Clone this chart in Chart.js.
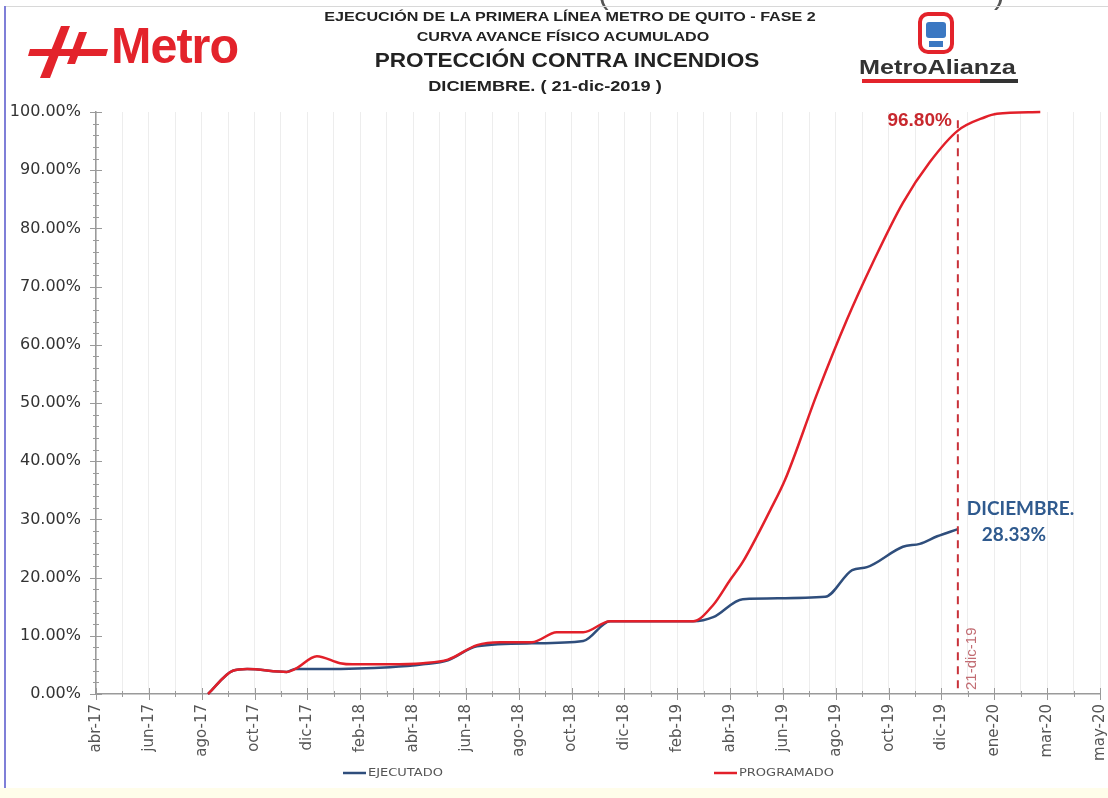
<!DOCTYPE html>
<html>
<head>
<meta charset="utf-8">
<script src="https://cdn.jsdelivr.net/npm/chart.js@4.4.1/dist/chart.umd.min.js"></script>
<style>
  html, body { margin:0; padding:0; }
  body { width:1108px; height:798px; position:relative; overflow:hidden; background:#fff; font-family:"Liberation Sans", Arial, sans-serif; }
  #c { position:absolute; left:0; top:0; }
  .t { position:absolute; width:700px; text-align:center; font-weight:bold; color:#222; white-space:nowrap; transform-origin:50% 50%; }
  #frameL { position:absolute; left:4px; top:6px; width:2px; height:784px; background:#7f7fd8; }
  #frameT { position:absolute; left:4px; top:6px; width:1104px; height:1px; background:#d8d8d8; }
  #bottomBand { position:absolute; left:0; top:788px; width:1108px; height:10px; background:#fffdea; }
  #metroTxt { position:absolute; left:111px; top:17px; font-size:50px; font-weight:bold; color:#e3232b; letter-spacing:-1px; transform:scaleX(0.97); transform-origin:0 50%; }
  #alianzaTxt { position:absolute; left:859px; top:56px; font-size:20px; font-weight:bold; color:#333; transform:scaleX(1.26); transform-origin:0 50%; }
  .par { position:absolute; top:-26px; font-size:32px; color:#555; font-weight:300; }
</style>
</head>
<body>
<canvas id="c" width="1108" height="798"></canvas>
<div class="par" style="left:598px;">(</div>
<div class="par" style="left:994px;">)</div>
<div id="frameT"></div>
<div id="frameL"></div>
<div id="bottomBand"></div>

<div class="t" style="left:220px; top:9px; font-size:13px; transform:scaleX(1.24);">EJECUCIÓN DE LA PRIMERA LÍNEA METRO DE QUITO - FASE 2</div>
<div class="t" style="left:213px; top:29px; font-size:13px; transform:scaleX(1.24);">CURVA AVANCE FÍSICO ACUMULADO</div>
<div class="t" style="left:217px; top:49px; font-size:20px; transform:scaleX(1.13);">PROTECCIÓN CONTRA INCENDIOS</div>
<div class="t" style="left:195px; top:78px; font-size:14px; transform:scaleX(1.3);">DICIEMBRE. ( 21-dic-2019 )</div>

<svg style="position:absolute;left:28px;top:26px" width="82" height="54" viewBox="0 0 82 54">
  <polygon points="2,23 80,23 78,30 0,30" fill="#e3232b"/>
  <polygon points="33,0 42,0 22,52 12,52" fill="#e3232b"/>
  <polygon points="51,6 59,6 47,38 39,38" fill="#e3232b"/>
</svg>
<div id="metroTxt">Metro</div>

<svg style="position:absolute;left:917px;top:12px" width="40" height="44" viewBox="0 0 40 44">
  <rect x="3" y="2" width="32" height="38" rx="8" ry="8" fill="none" stroke="#e3232b" stroke-width="4"/>
  <rect x="9" y="10" width="20" height="16" rx="3" fill="#3b78c2"/>
  <rect x="12" y="29" width="14" height="6" fill="#3b78c2"/>
</svg>
<div id="alianzaTxt">MetroAlianza</div>
<div style="position:absolute;left:862px;top:79px;width:118px;height:4px;background:#e3232b;"></div>
<div style="position:absolute;left:980px;top:79px;width:38px;height:4px;background:#333;"></div>

<script>
// ---- DATA ----
const xLabels = ["abr-17","jun-17","ago-17","oct-17","dic-17","feb-18","abr-18","jun-18","ago-18","oct-18",
                 "dic-18","feb-19","abr-19","jun-19","ago-19","oct-19","dic-19","ene-20","mar-20","may-20"];

// x positions in axis-label units (0 = abr-17, 1 = jun-17, ...)
const progX = [2.12,2.59,2.86,3.61,3.77,4.18,4.62,4.85,5.56,6.19,6.66,7.21,7.65,8.25,8.72,9.22,9.73,11.30,11.68,12.00,12.24,12.76,13.04,13.65,14.21,14.70,15.27,15.78,16.31,16.82,17.05,17.87];
const progY = [0,4.0,4.3,3.8,4.3,6.5,5.3,5.1,5.1,5.3,5.9,8.4,8.9,8.9,10.6,10.6,12.5,12.5,15.3,19.6,22.7,31.6,36.8,51.7,64.3,74.1,84.4,91.4,96.8,99.1,99.7,100];

const ejecX = [2.12,2.59,2.86,3.61,3.77,4.30,5.56,6.19,6.66,7.21,8.25,9.22,9.73,11.30,11.68,12.24,13.80,14.31,14.59,15.27,15.59,15.92,16.31];
const ejecY = [0,4.0,4.3,3.8,4.3,4.3,4.6,5.1,5.8,8.2,8.7,9.1,12.5,12.5,13.2,16.3,16.7,21.3,21.8,25.3,25.8,27.1,28.33];

const seriesNames = ["EJECUTADO","PROGRAMADO"];
const cutX = 16.31;
const cutLabel = "21-dic-19";
const progAtCut = "96.80%";
const ejecMonth = "DICIEMBRE.";
const ejecAtCut = "28.33%";

const BLUE = "#2f4e7c";
const RED = "#e2202a";

const annot = {
  id: "annot",
  afterDraw(chart) {
    const ctx = chart.ctx;
    const xs = chart.scales.x, ys = chart.scales.y;
    const ca = chart.chartArea;
    ctx.save();
    ctx.strokeStyle = "#9a9a9a"; ctx.lineWidth = 1;
    for (let v = 0; v <= 100; v += 2) {
      const y = Math.round(ys.getPixelForValue(v)) + 0.5;
      const len = (v % 10 === 0) ? 6 : 3;
      ctx.beginPath(); ctx.moveTo(ca.left - len, y); ctx.lineTo(ca.left + len, y); ctx.stroke();
    }
    for (let v = 0; v <= 19; v += 0.5) {
      const x = Math.round(xs.getPixelForValue(v)) + 0.5;
      const len = Number.isInteger(v) ? 6 : 3;
      ctx.beginPath(); ctx.moveTo(x, ca.bottom - len); ctx.lineTo(x, ca.bottom + len); ctx.stroke();
    }
    const cx = xs.getPixelForValue(cutX);
    ctx.strokeStyle = "#c8323a"; ctx.lineWidth = 2; ctx.setLineDash([8,6]);
    ctx.beginPath(); ctx.moveTo(cx, ys.getPixelForValue(98.6)); ctx.lineTo(cx, ca.bottom); ctx.stroke();
    ctx.setLineDash([]);
    ctx.fillStyle = "#c8282e"; ctx.font = "bold 19px 'Liberation Sans', Arial, sans-serif";
    ctx.textAlign = "right"; ctx.textBaseline = "middle";
    ctx.fillText(progAtCut, cx - 6, ys.getPixelForValue(98.6) + 1);
    ctx.fillStyle = "#2f5a8e"; ctx.font = "bold 19px Lato, 'Open Sans', sans-serif";
    ctx.textAlign = "left";
    ctx.fillText(ejecMonth, cx + 9, 509);
    ctx.fillText(ejecAtCut, cx + 24, 535);
    ctx.save();
    ctx.translate(cx + 14, ca.bottom - 4);
    ctx.rotate(-Math.PI / 2);
    ctx.fillStyle = "#c26d73"; ctx.font = "15px 'Liberation Sans', Arial, sans-serif";
    ctx.textAlign = "left"; ctx.textBaseline = "middle";
    ctx.fillText(cutLabel, 0, 0);
    ctx.restore();
    // legend
    ctx.textBaseline = "middle"; ctx.textAlign = "left";
    const items = [{x:343, c:BLUE, t:seriesNames[0]}, {x:714, c:RED, t:seriesNames[1]}];
    items.forEach(it => {
      ctx.strokeStyle = it.c; ctx.lineWidth = 2.5;
      ctx.beginPath(); ctx.moveTo(it.x, 773); ctx.lineTo(it.x + 23, 773); ctx.stroke();
      ctx.save();
      ctx.translate(it.x + 25, 773);
      ctx.scale(1.3, 1);
      ctx.font = "10px 'DejaVu Sans', sans-serif";
      ctx.fillStyle = "#555"; ctx.fillText(it.t, 0, 0);
      ctx.restore();
    });
    ctx.restore();
  }
};

new Chart(document.getElementById("c"), {
  type: "line",
  data: {
    datasets: [
      { label: seriesNames[0], data: ejecX.map((x,i)=>({x:x, y:ejecY[i]})), borderColor: BLUE, borderWidth: 2.5,
        pointRadius: 0, cubicInterpolationMode: "monotone", clip: false, order: 2 },
      { label: seriesNames[1], data: progX.map((x,i)=>({x:x, y:progY[i]})), borderColor: RED, borderWidth: 2.5,
        pointRadius: 0, cubicInterpolationMode: "monotone", clip: false, order: 1 }
    ]
  },
  options: {
    responsive: false, animation: false, devicePixelRatio: 1,
    layout: { padding: { top: 112, right: 8, bottom: 0, left: 0 } },
    plugins: { legend: { display: false }, tooltip: { enabled: false } },
    scales: {
      x: {
        type: "linear", min: 0, max: 19,
        afterFit(s) { s.height = 104; s.paddingLeft = 0; s.paddingRight = 0; },
        grid: { drawOnChartArea: true, drawTicks: false, color: "rgba(0,0,0,0.07)", lineWidth: 1 },
        border: { color: "#9a9a9a", width: 1.5 },
        ticks: {
          stepSize: 0.5, autoSkip: false, minRotation: 90, maxRotation: 90, padding: 10,
          color: "#555", font: { size: 15, family: "'DejaVu Sans', sans-serif" },
          callback: v => Number.isInteger(v) ? xLabels[v] : ""
        }
      },
      y: {
        min: 0, max: 100,
        afterFit(s) { s.width = 96; s.paddingTop = 0; s.paddingBottom = 0; },
        grid: { drawOnChartArea: false, drawTicks: false },
        border: { color: "#9a9a9a", width: 1.5 },
        ticks: {
          stepSize: 2, autoSkip: false, padding: 15,
          color: "#333", font: { size: 16, family: "'DejaVu Sans', sans-serif" },
          callback: v => (v % 10 === 0) ? v.toFixed(2) + "%" : ""
        }
      }
    }
  },
  plugins: [annot]
});
</script>
</body>
</html>
